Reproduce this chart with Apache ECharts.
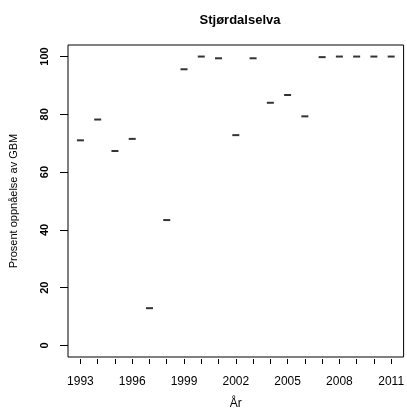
<!DOCTYPE html>
<html>
<head>
<meta charset="utf-8">
<script src="https://cdn.jsdelivr.net/npm/echarts@6/dist/echarts.min.js"></script>
<style>html,body{margin:0;padding:0;background:#fff}#c{width:407px;height:418px}</style>
</head>
<body>
<div id="c"></div>
<script>
const years = [1993,1994,1995,1996,1997,1998,1999,2000,2001,2002,2003,2004,2005,2006,2007,2008,2009,2010,2011];
const values = [71.0,78.2,67.3,71.5,12.9,43.4,95.6,100.0,99.4,72.8,99.4,84.0,86.7,79.3,99.8,100.0,100.0,100.0,100.0];
const xTickLabels = [1993,1996,1999,2002,2005,2008,2011];
const yTicks = [0,20,40,60,80,100];

const font = 'Liberation Sans, Arial, Helvetica, sans-serif';
const chart = echarts.init(document.getElementById('c'), null, {renderer:'canvas'});
chart.setOption({
  animation:false,
  backgroundColor:'#fff',
  title:{text:'Stjørdalselva',left:235,textAlign:'center',top:9,
    textStyle:{fontFamily:font,fontSize:13,fontWeight:'bold',color:'#000'}},
  grid:{left:66,right:3,top:45,bottom:61,show:true,borderColor:'#000',borderWidth:1,backgroundColor:'transparent'},
  xAxis:{type:'value',min:1992.28,max:2011.72,
    name:'År',nameLocation:'middle',nameGap:39,
    nameTextStyle:{fontFamily:font,fontSize:12,color:'#000'},
    axisLine:{show:false,onZero:false},splitLine:{show:false},offset:2,
    axisTick:{show:true,length:5,customValues:years,lineStyle:{color:'#000',width:1}},
    axisLabel:{customValues:xTickLabels,fontFamily:font,fontSize:12,color:'#000',margin:17,formatter:v=>String(v)}
  },
  yAxis:{type:'value',min:-4,max:104,
    name:'Prosent oppnåelse av GBM',nameLocation:'middle',nameGap:49,
    nameTextStyle:{fontFamily:font,fontSize:11,color:'#000'},
    axisLine:{show:false,onZero:false},splitLine:{show:false},
    axisTick:{show:true,length:8,customValues:yTicks,lineStyle:{color:'#000',width:1}},
    axisLabel:{customValues:yTicks,rotate:90,fontFamily:font,fontSize:11,fontWeight:'bold',color:'#000',margin:23,
      verticalAlign:'middle',align:'center'}
  },
  series:[{type:'scatter',data:years.map((y,i)=>[y,values[i]]),
    symbol:'rect',symbolSize:[7,2],itemStyle:{color:'#000'}}]
});
</script>
</body>
</html>
